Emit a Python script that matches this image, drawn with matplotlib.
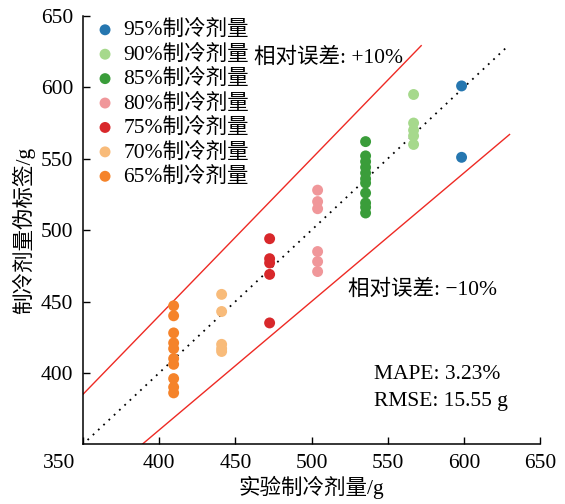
import matplotlib
matplotlib.use("Agg")
import matplotlib.pyplot as plt

plt.rcParams['font.family'] = ['Liberation Serif', 'Noto Sans CJK SC', 'DejaVu Sans']
plt.rcParams['axes.unicode_minus'] = True

labels = ["95%制冷剂量", "90%制冷剂量", "85%制冷剂量", "80%制冷剂量",
          "75%制冷剂量", "70%制冷剂量", "65%制冷剂量"]
colors = ["#2677b0", "#a6d98c", "#3a9d3a", "#f0979a", "#d8282b", "#f8bb7a", "#f5832a"]
x_exp = [598.5, 567, 535.5, 504, 472.5, 441, 409.5]
y_pred = [
    [601, 551],
    [595, 575, 570, 566, 560],
    [562, 552, 548, 544, 540, 536, 533, 526, 519, 516, 512],
    [528, 520, 515, 485, 478, 471],
    [494, 480, 477, 469, 435],
    [455, 443, 420, 417, 415],
    [447, 440, 428, 421, 417, 410, 406, 396, 390, 386],
]
xticks = [350, 400, 450, 500, 550, 600, 650]
yticks = [400, 450, 500, 550, 600, 650]

fig = plt.figure(figsize=(5.65, 5.04), dpi=100)
ax = fig.add_axes([0.1469, 0.1185, 0.8089, 0.8498])

fs = 15.5
# reference lines
ax.plot([353, 628], [353, 628], color='black', linestyle=(0, (1, 3)), lw=1.3, zorder=1)
ax.plot([350, 572], [350 * 1.1, 572 * 1.1], color='#ee2a24', lw=1.0, zorder=1)
ax.plot([350 / 0.9, 630], [350, 630 * 0.9], color='#ee2a24', lw=1.0, zorder=1)

for lab, c, xv, ys in zip(labels, colors, x_exp, y_pred):
    ax.scatter([xv] * len(ys), ys, s=62, color=c, edgecolors='none', label=lab, zorder=3)

ax.set_xlim(350, 650)
ax.set_ylim(350, 650)
ax.set_xticks(xticks)
ax.set_xticklabels([''] + [str(t) for t in xticks[1:]])
ax.set_yticks(yticks)
ax.set_yticklabels([str(t) for t in yticks])
ax.tick_params(direction='in', length=5, width=1, labelsize=fs, pad=7)
ax.spines['top'].set_visible(False)
ax.spines['right'].set_visible(False)
for s in ['left', 'bottom']:
    ax.spines[s].set_linewidth(1.1)

ax.text(-0.018, -0.022, "350", transform=ax.transAxes, ha='right', va='top', fontsize=fs)

ax.set_xlabel("实验制冷剂量/g", fontsize=fs, labelpad=2)
ax.set_ylabel("制冷剂量伪标签/g", fontsize=fs, labelpad=4)

ax.text(462, 621, "相对误差: +10%", fontsize=fs, va='center', ha='left')
ax.text(524, 458, "相对误差: \u221210%", fontsize=fs, va='center', ha='left')
ax.text(541, 399, "MAPE: 3.23%", fontsize=fs, va='center', ha='left')
ax.text(541, 380, "RMSE: 15.55 g", fontsize=fs, va='center', ha='left')

leg = ax.legend(loc='upper left', bbox_to_anchor=(-0.013, 1.025), frameon=False,
                fontsize=fs, handletextpad=0.25, labelspacing=0.2,
                borderaxespad=0.3, markerscale=1.0, handlelength=1.2)

fig.savefig("out.png", dpi=100)
